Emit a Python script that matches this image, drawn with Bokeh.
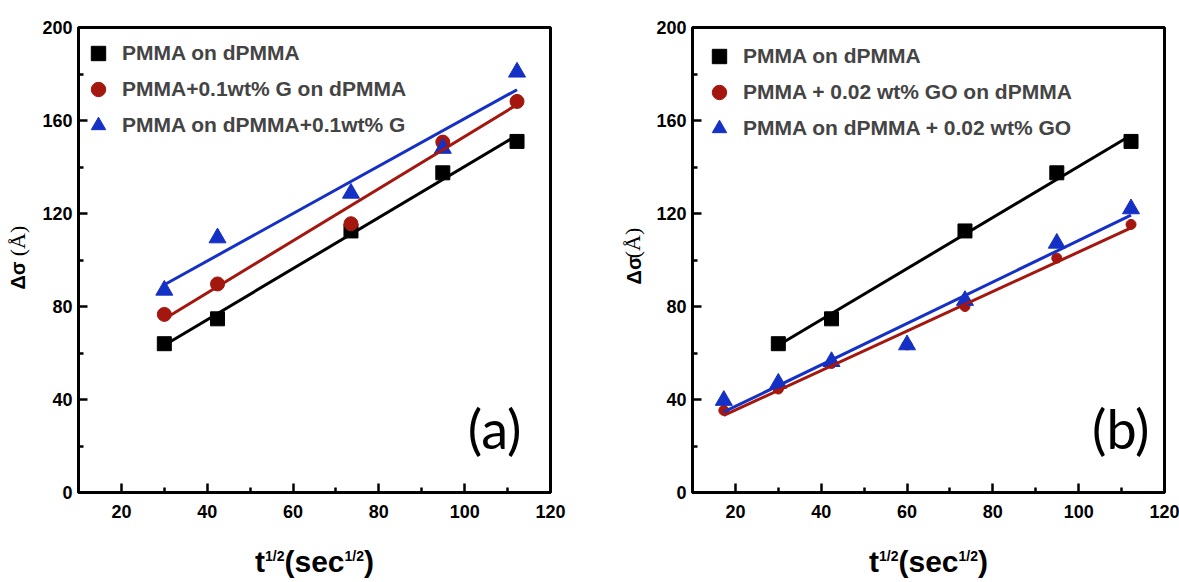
import numpy as np
from bokeh.plotting import figure
from bokeh.models import Range1d, FixedTicker, Label, Legend, LegendItem, LinearAxis
from bokeh.layouts import row
from bokeh.embed import file_html
from bokeh.resources import INLINE

# ---------------- data ----------------
sqrt_t_a = [30.0, 42.4, 73.5, 94.9, 112.2]
a_pmma_on_dpmma = [64.0, 74.7, 112.5, 137.5, 151.0]
a_pmma_g_on_dpmma = [76.6, 89.7, 115.6, 150.7, 168.2]
a_pmma_on_dpmma_g = [87.0, 109.5, 128.7, 148.0, 180.8]

sqrt_t_b_ref = [30.0, 42.4, 73.5, 94.9, 112.2]
b_pmma_on_dpmma = [64.0, 74.7, 112.5, 137.5, 151.0]
sqrt_t_b = [17.3, 30.0, 42.4, 60.0, 73.5, 94.9, 112.2]
b_pmma_go_on_dpmma = [35.3, 44.5, 55.5, 63.5, 80.0, 100.8, 115.3]
b_pmma_on_dpmma_go = [39.6, 47.0, 56.3, 63.5, 82.6, 107.2, 122.0]

labels_a = ["PMMA on dPMMA", "PMMA+0.1wt% G on dPMMA", "PMMA on dPMMA+0.1wt% G"]
labels_b = ["PMMA on dPMMA", "PMMA + 0.02 wt% GO on dPMMA", "PMMA on dPMMA + 0.02 wt% GO"]

x_ticks = [20, 40, 60, 80, 100, 120]
x_minor = [30, 50, 70, 90, 110]
y_ticks = [0, 40, 80, 120, 160, 200]
y_minor = [20, 60, 100, 140, 180]

BLACK = "#000000"
RED = "#A3170F"
BLUE = "#1530C4"
SANS = "Liberation Sans"

X0, X1, Y0, Y1 = 10, 120, 0, 200
FRAME_W = 472
PX = FRAME_W / (X1 - X0)   # pixels per x unit


def text_axis(p, side, ticks, texts, font, size, style, standoff, orientation="horizontal"):
    ax = LinearAxis(ticker=FixedTicker(ticks=ticks, minor_ticks=[]),
                    major_label_overrides=dict(zip(ticks, texts)),
                    axis_line_color=None, major_tick_line_color=None, minor_tick_line_color=None,
                    major_tick_in=0, major_tick_out=0, minor_tick_in=0, minor_tick_out=0,
                    major_label_text_font=font, major_label_text_font_size=f"{size}px",
                    major_label_text_font_style=style, major_label_standoff=int(standoff),
                    major_label_orientation=orientation, major_label_text_color="black")
    p.add_layout(ax, side)


def make_panel(width, left_border, right_border, series, labels, tag,
               legend_loc, ylab, tag_off, red_size):
    p = figure(width=width, height=582, output_backend="svg", toolbar_location=None,
               x_range=Range1d(X0, X1), y_range=Range1d(Y0, Y1),
               min_border_left=left_border, min_border_right=right_border,
               min_border_top=27, min_border_bottom=90)
    p.background_fill_color = "white"
    p.border_fill_color = "white"
    p.grid.visible = False
    p.outline_line_color = "black"
    p.outline_line_width = 3

    p.xaxis.ticker = FixedTicker(ticks=x_ticks, minor_ticks=x_minor)
    p.yaxis.ticker = FixedTicker(ticks=y_ticks, minor_ticks=y_minor)
    for ax in (p.xaxis[0], p.yaxis[0]):
        ax.axis_line_width = 3
        ax.major_tick_in = 9
        ax.major_tick_out = 0
        ax.minor_tick_in = 5
        ax.minor_tick_out = 0
        ax.major_tick_line_width = 2.5
        ax.minor_tick_line_width = 2.5
        ax.major_label_text_font = SANS
        ax.major_label_text_font_style = "bold"
        ax.major_label_text_font_size = "18px"
        ax.major_label_text_color = "black"
    p.xaxis.major_label_standoff = 12
    p.yaxis.major_label_standoff = 6

    colors = [BLACK, RED, BLUE]
    markers = ["square", "circle", "triangle"]
    sizes = [14, red_size, 17]
    scat = []
    for (xs, ys), c, m, s in zip(series, colors, markers, sizes):
        scat.append(p.scatter(xs, ys, marker=m, size=s, color=c))
    for (xs, ys), c in zip(series, colors):
        coef = np.polyfit(xs, ys, 1)
        xe = [min(xs), max(xs)]
        p.line(xe, list(np.polyval(coef, xe)), line_width=3, color=c)

    legend = Legend(items=[LegendItem(label=l, renderers=[r]) for l, r in zip(labels, scat)],
                    location=legend_loc, glyph_width=36, glyph_height=36,
                    spacing=0, padding=0, margin=0, label_standoff=6,
                    border_line_color=None, background_fill_alpha=0,
                    label_text_font=SANS, label_text_font_style="bold",
                    label_text_font_size="21px", label_text_baseline="middle")
    p.add_layout(legend, "center")

    # x axis title t^{1/2}(sec^{1/2}) built from text-only axes
    big, sup = 30, 14
    wtab = {"t": .333, "(": .333, ")": .333, "s": .556, "e": .556, "c": .556,
            "1": .556, "/": .278, "2": .556}
    pieces = [("t", big, False), ("1/2", sup, True), ("(sec", big, False),
              ("1/2", sup, True), (")", big, False)]
    widths = [sum(wtab[ch] for ch in txt) * sz for txt, sz, _ in pieces]
    xc = (X0 + X1) / 2
    pos = -sum(widths) / 2
    big_t, big_s, sup_t, sup_s = [], [], [], []
    for (txt, sz, is_sup), w in zip(pieces, widths):
        cx = round(xc + (pos + w / 2) / PX, 4)
        if is_sup:
            sup_t.append(cx); sup_s.append(txt)
        else:
            big_t.append(cx); big_s.append(txt)
        pos += w
    text_axis(p, "below", big_t, big_s, SANS, big, "bold", 24)
    text_axis(p, "below", sup_t, sup_s, SANS, sup, "bold", -33)

    # y axis title Δσ(Å) built from text-only axes
    (d_y, d_off), (a_y, a_off) = ylab
    text_axis(p, "left", [d_y], ["Δσ"], SANS, 20, "bold", d_off, "vertical")
    text_axis(p, "left", [a_y], ["(Å)"], "Liberation Serif", 22, "normal", a_off, "vertical")

    # panel tag
    p.add_layout(Label(x=X1, y=Y0, x_offset=tag_off, y_offset=64, text=tag,
                       text_font="Lato", text_font_size="54px", text_align="right",
                       text_baseline="middle", text_color="black"))
    return p


pa = make_panel(589, 78, 39,
                [(sqrt_t_a, a_pmma_on_dpmma), (sqrt_t_a, a_pmma_g_on_dpmma),
                 (sqrt_t_a, a_pmma_on_dpmma_g)],
                labels_a, "(a)", (2, 349), ((93.3, 10), (108.2, -26)), -29, 14)
pb = make_panel(590, 103, 15,
                [(sqrt_t_b_ref, b_pmma_on_dpmma), (sqrt_t_b, b_pmma_go_on_dpmma),
                 (sqrt_t_b, b_pmma_on_dpmma_go)],
                labels_b, "(b)", (9, 346), ((95.5, 8), (107.3, -25)), -15, 10)

layout = row(pa, pb)
open("out.html", "w").write(file_html(layout, INLINE))
